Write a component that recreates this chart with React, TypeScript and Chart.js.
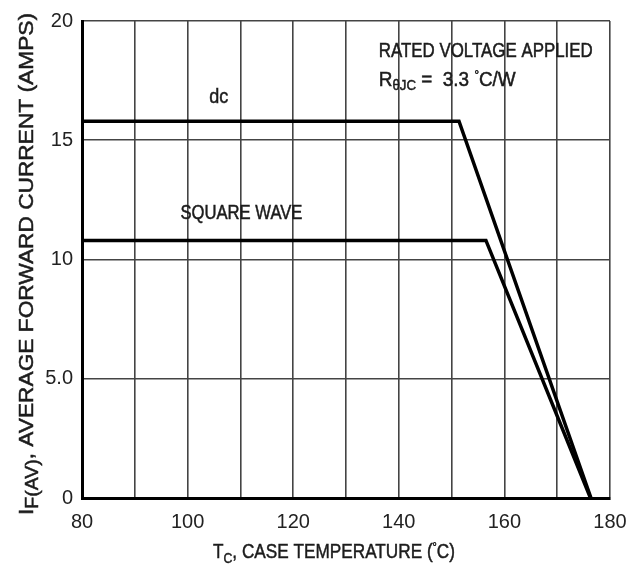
import React, { useEffect, useRef } from 'react';
import { Chart, registerables } from 'chart.js';

Chart.register(...registerables);

const FONT = "'Liberation Sans Narrow', 'Arial Narrow', 'Liberation Sans', Arial, sans-serif";

// Data
const yTickLabels = ['0', '5.0', '10', '15', '20'];
const dcTemp = [80, 151.4, 176.4];
const dcCurrent = [15.8, 15.8, 0];
const sqTemp = [80, 156.5, 176.3];
const sqCurrent = [10.8, 10.8, 0];

type Part = [string, number, number?];

// draws mixed-size text, squeezed horizontally to a target width (narrow face look)
function drawFit(
  ctx: CanvasRenderingContext2D,
  parts: Part[],
  x: number,
  y: number,
  align: 'left' | 'center',
  target: number
) {
  let total = 0;
  for (const p of parts) {
    ctx.font = `${p[1]}px ${FONT}`;
    total += ctx.measureText(p[0]).width;
  }
  const sx = target / total;
  const start = align === 'center' ? x - target / 2 : x;
  ctx.save();
  ctx.translate(start, y);
  ctx.scale(sx, 1);
  ctx.textAlign = 'left';
  ctx.strokeStyle = ctx.fillStyle as string;
  ctx.lineWidth = 0.5;
  let cx = 0;
  for (const p of parts) {
    ctx.font = `${p[1]}px ${FONT}`;
    ctx.fillText(p[0], cx, p[2] || 0);
    ctx.strokeText(p[0], cx, p[2] || 0);
    cx += ctx.measureText(p[0]).width;
  }
  ctx.restore();
}

const textPlugin = {
  id: 'customTexts',
  afterDraw(chart: any) {
    const { ctx, scales, chartArea } = chart;
    const x = scales.x;
    const y = scales.y;
    ctx.save();
    ctx.fillStyle = '#1c1c1c';
    ctx.textBaseline = 'alphabetic';

    // curve labels
    drawFit(ctx, [['dc', 20]], x.getPixelForValue(105.9), y.getPixelForValue(16.55), 'center', 19);
    drawFit(ctx, [['SQUARE WAVE', 20]], x.getPixelForValue(110.2), y.getPixelForValue(11.7), 'center', 122);

    // condition note
    drawFit(ctx, [['RATED VOLTAGE APPLIED', 20]], x.getPixelForValue(136.2), y.getPixelForValue(18.5), 'left', 214);
    drawFit(
      ctx,
      [['R', 20], ['θJC', 14, 4], [' =  3.3 ', 20], ['°', 12, -7], ['C/W', 20]],
      x.getPixelForValue(136.2),
      y.getPixelForValue(17.27),
      'left',
      137
    );

    // x axis title
    drawFit(
      ctx,
      [['T', 21], ['C', 15, 5], [', CASE TEMPERATURE (', 21], ['°', 13, -7], ['C)', 21]],
      334,
      chartArea.bottom + 60,
      'center',
      242
    );

    // y axis title (rotated)
    ctx.translate(33, 264);
    ctx.rotate(-Math.PI / 2);
    drawFit(
      ctx,
      [['I', 21], ['F(AV)', 18, 5], [', AVERAGE FORWARD CURRENT (AMPS)', 21]],
      0,
      0,
      'center',
      502
    );
    ctx.restore();
  },
};

export default function App() {
  const canvasRef = useRef<HTMLCanvasElement>(null);

  useEffect(() => {
    const canvas = canvasRef.current;
    if (!canvas) return;
    const dcPoints = dcTemp.map((t, i) => ({ x: t, y: dcCurrent[i] }));
    const sqPoints = sqTemp.map((t, i) => ({ x: t, y: sqCurrent[i] }));

    const chart = new Chart(canvas, {
      type: 'line',
      data: {
        datasets: [
          {
            label: 'dc',
            data: dcPoints,
            borderColor: '#000',
            borderWidth: 3.5,
            pointRadius: 0,
            tension: 0,
            fill: false,
          },
          {
            label: 'SQUARE WAVE',
            data: sqPoints,
            borderColor: '#000',
            borderWidth: 3.5,
            pointRadius: 0,
            tension: 0,
            fill: false,
          },
        ],
      },
      options: {
        animation: false,
        responsive: false,
        devicePixelRatio: 1,
        layout: { padding: { top: 13, right: 32, left: 0, bottom: 0 } },
        plugins: {
          legend: { display: false },
          tooltip: { enabled: false },
        },
        scales: {
          x: {
            type: 'linear',
            min: 80,
            max: 180,
            grid: { color: '#444', lineWidth: 1.6, drawTicks: false },
            border: { display: true, color: '#000', width: 3 },
            ticks: {
              stepSize: 10,
              autoSkip: false,
              maxRotation: 0,
              padding: 12,
              color: '#222',
              font: { family: FONT, size: 20 },
              callback: (v: any) => (Number(v) % 20 === 0 ? String(v) : ''),
            },
            afterFit: (scale: any) => {
              scale.height = 77;
            },
          },
          y: {
            type: 'linear',
            min: 0,
            max: 20,
            grid: { color: '#444', lineWidth: 1.6, drawTicks: false },
            border: { display: true, color: '#000', width: 3 },
            ticks: {
              stepSize: 5,
              padding: 9,
              color: '#222',
              font: { family: FONT, size: 20 },
              callback: (v: any) => yTickLabels[Math.round(Number(v) / 5)] ?? '',
            },
            afterFit: (scale: any) => {
              scale.width = 82;
            },
          },
        },
      },
      plugins: [textPlugin],
    });
    return () => chart.destroy();
  }, []);

  return (
    <div style={{ position: 'absolute', left: 0, top: 0, width: 642, height: 575, background: '#fff' }}>
      <canvas ref={canvasRef} width={642} height={575} style={{ display: 'block' }} />
    </div>
  );
}
